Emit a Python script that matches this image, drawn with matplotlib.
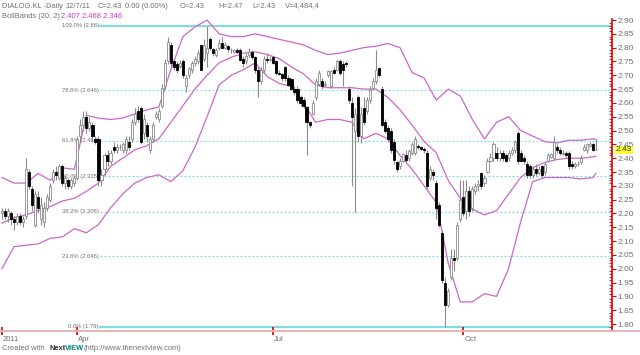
import matplotlib
matplotlib.use("Agg")
import matplotlib.pyplot as plt
from matplotlib.lines import Line2D
from matplotlib.ticker import FixedLocator, FormatStrFormatter

# Daily OHLC for DIALOG.KL, one entry per trading day
opens = [
    2.20, 2.21, 2.19, 2.20, 2.18, 2.17, 2.19, 2.17, 2.19, 2.35,
    2.29, 2.16, 2.26, 2.18, 2.17, 2.22, 2.25, 2.32, 2.35, 2.33,
    2.37, 2.31, 2.32, 2.30, 2.31, 2.33, 2.48, 2.52, 2.55, 2.51,
    2.52, 2.47, 2.47, 2.32, 2.36, 2.41, 2.39, 2.44, 2.43, 2.44,
    2.43, 2.43, 2.46, 2.47, 2.53, 2.57, 2.58, 2.49, 2.52, 2.43,
    2.47, 2.55, 2.54, 2.59, 2.66, 2.75, 2.81, 2.75, 2.74, 2.735,
    2.75, 2.66, 2.70, 2.72, 2.745, 2.75, 2.81, 2.76, 2.78, 2.83,
    2.795, 2.775, 2.80, 2.815, 2.80, 2.805, 2.79, 2.785, 2.79, 2.79,
    2.76, 2.75, 2.775, 2.785, 2.765, 2.72, 2.68, 2.72, 2.76, 2.755,
    2.765, 2.75, 2.71, 2.705, 2.73, 2.69, 2.685, 2.65, 2.65, 2.62,
    2.61, 2.585, 2.53, 2.56, 2.62, 2.67, 2.68, 2.665, 2.70, 2.66,
    2.72, 2.72, 2.75, 2.74, 2.745, 2.65, 2.60, 2.50, 2.62, 2.48,
    2.58, 2.57, 2.61, 2.655, 2.68, 2.725, 2.65, 2.53, 2.51, 2.50,
    2.46, 2.385, 2.37, 2.39, 2.41, 2.40, 2.42, 2.42, 2.445, 2.44,
    2.435, 2.42, 2.33, 2.35, 2.31, 2.23, 2.13, 1.95, 1.87, 1.97,
    2.04, 2.04, 2.18, 2.26, 2.21, 2.28, 2.22, 2.28, 2.30, 2.345,
    2.31, 2.35, 2.39, 2.40, 2.42, 2.40, 2.42, 2.41, 2.40, 2.42,
    2.43, 2.49, 2.42, 2.40, 2.38, 2.37, 2.34, 2.36, 2.345, 2.37,
    2.35, 2.39, 2.405, 2.40, 2.44, 2.43, 2.415, 2.42, 2.42, 2.38,
    2.37, 2.38, 2.385, 2.43, 2.43, 2.445, 2.45, 2.43]
highs = [
    2.22, 2.22, 2.22, 2.21, 2.19, 2.20, 2.20, 2.19, 2.40, 2.36,
    2.30, 2.28, 2.28, 2.26, 2.24, 2.27, 2.31, 2.36, 2.37, 2.38,
    2.38, 2.34, 2.33, 2.33, 2.34, 2.48, 2.54, 2.57, 2.57, 2.55,
    2.53, 2.48, 2.48, 2.36, 2.42, 2.43, 2.43, 2.46, 2.45, 2.45,
    2.46, 2.48, 2.48, 2.54, 2.58, 2.59, 2.59, 2.56, 2.53, 2.48,
    2.53, 2.57, 2.58, 2.67, 2.76, 2.84, 2.82, 2.76, 2.75, 2.755,
    2.76, 2.70, 2.73, 2.75, 2.77, 2.79, 2.81, 2.83, 2.88, 2.84,
    2.80, 2.80, 2.83, 2.84, 2.82, 2.81, 2.80, 2.795, 2.80, 2.80,
    2.77, 2.78, 2.80, 2.79, 2.77, 2.73, 2.73, 2.77, 2.78, 2.77,
    2.77, 2.755, 2.72, 2.71, 2.735, 2.70, 2.69, 2.66, 2.66, 2.63,
    2.62, 2.59, 2.535, 2.61, 2.69, 2.72, 2.69, 2.68, 2.72, 2.72,
    2.73, 2.76, 2.76, 2.75, 2.75, 2.66, 2.62, 2.58, 2.63, 2.585,
    2.62, 2.62, 2.66, 2.69, 2.79, 2.73, 2.66, 2.54, 2.52, 2.51,
    2.47, 2.39, 2.40, 2.42, 2.43, 2.435, 2.46, 2.48, 2.45, 2.445,
    2.44, 2.43, 2.37, 2.36, 2.32, 2.24, 2.14, 1.97, 1.93, 2.07,
    2.07, 2.17, 2.32, 2.32, 2.32, 2.30, 2.30, 2.31, 2.32, 2.35,
    2.34, 2.40, 2.42, 2.46, 2.44, 2.43, 2.43, 2.42, 2.43, 2.44,
    2.465, 2.50, 2.43, 2.41, 2.39, 2.38, 2.37, 2.38, 2.37, 2.375,
    2.385, 2.42, 2.42, 2.48, 2.45, 2.44, 2.43, 2.425, 2.425, 2.39,
    2.385, 2.39, 2.41, 2.45, 2.455, 2.46, 2.455, 2.47]
lows = [
    2.18, 2.18, 2.17, 2.16, 2.14, 2.16, 2.16, 2.15, 2.18, 2.29,
    2.21, 2.15, 2.20, 2.16, 2.15, 2.21, 2.24, 2.31, 2.32, 2.32,
    2.30, 2.29, 2.29, 2.29, 2.30, 2.32, 2.46, 2.50, 2.49, 2.50,
    2.46, 2.45, 2.30, 2.30, 2.34, 2.37, 2.38, 2.42, 2.42, 2.43,
    2.42, 2.42, 2.43, 2.46, 2.52, 2.53, 2.45, 2.47, 2.46, 2.42,
    2.46, 2.54, 2.53, 2.58, 2.65, 2.74, 2.73, 2.72, 2.71, 2.725,
    2.69, 2.64, 2.69, 2.71, 2.735, 2.74, 2.72, 2.75, 2.73, 2.79,
    2.77, 2.765, 2.79, 2.795, 2.795, 2.785, 2.78, 2.78, 2.78, 2.75,
    2.73, 2.74, 2.765, 2.76, 2.71, 2.62, 2.67, 2.71, 2.745, 2.75,
    2.74, 2.70, 2.70, 2.68, 2.68, 2.66, 2.645, 2.63, 2.60, 2.59,
    2.58, 2.41, 2.51, 2.555, 2.61, 2.66, 2.65, 2.66, 2.695, 2.655,
    2.705, 2.715, 2.70, 2.66, 2.73, 2.60, 2.30, 2.205, 2.46, 2.455,
    2.52, 2.56, 2.60, 2.65, 2.67, 2.695, 2.515, 2.49, 2.46, 2.42,
    2.38, 2.35, 2.36, 2.385, 2.385, 2.39, 2.41, 2.41, 2.435, 2.43,
    2.42, 2.29, 2.32, 2.32, 2.18, 2.15, 1.95, 1.79, 1.86, 1.96,
    1.99, 2.03, 2.17, 2.19, 2.18, 2.19, 2.21, 2.27, 2.28, 2.29,
    2.30, 2.345, 2.385, 2.39, 2.39, 2.39, 2.39, 2.385, 2.39, 2.41,
    2.42, 2.38, 2.385, 2.38, 2.33, 2.33, 2.33, 2.335, 2.34, 2.33,
    2.34, 2.385, 2.40, 2.395, 2.42, 2.41, 2.41, 2.40, 2.36, 2.36,
    2.365, 2.37, 2.38, 2.425, 2.42, 2.44, 2.425, 2.43]
closes = [
    2.21, 2.19, 2.21, 2.18, 2.17, 2.19, 2.17, 2.18, 2.36, 2.30,
    2.23, 2.27, 2.22, 2.23, 2.22, 2.26, 2.30, 2.35, 2.34, 2.37,
    2.31, 2.33, 2.30, 2.32, 2.33, 2.47, 2.52, 2.55, 2.51, 2.53,
    2.48, 2.46, 2.32, 2.34, 2.41, 2.39, 2.42, 2.43, 2.44, 2.44,
    2.45, 2.47, 2.44, 2.53, 2.56, 2.54, 2.46, 2.54, 2.48, 2.47,
    2.52, 2.56, 2.57, 2.655, 2.745, 2.82, 2.745, 2.73, 2.72, 2.745,
    2.70, 2.69, 2.725, 2.745, 2.76, 2.78, 2.72, 2.81, 2.80, 2.80,
    2.78, 2.79, 2.815, 2.80, 2.81, 2.795, 2.79, 2.79, 2.785, 2.755,
    2.745, 2.77, 2.785, 2.765, 2.72, 2.68, 2.72, 2.76, 2.755, 2.76,
    2.745, 2.71, 2.705, 2.69, 2.69, 2.665, 2.65, 2.64, 2.61, 2.60,
    2.59, 2.53, 2.52, 2.60, 2.68, 2.71, 2.66, 2.67, 2.715, 2.715,
    2.71, 2.75, 2.71, 2.72, 2.74, 2.61, 2.55, 2.56, 2.48, 2.56,
    2.53, 2.61, 2.645, 2.68, 2.72, 2.70, 2.52, 2.50, 2.47, 2.43,
    2.395, 2.36, 2.39, 2.415, 2.395, 2.425, 2.45, 2.47, 2.44, 2.435,
    2.43, 2.30, 2.36, 2.34, 2.22, 2.16, 1.96, 1.87, 1.92, 2.04,
    2.03, 2.16, 2.25, 2.20, 2.28, 2.21, 2.29, 2.30, 2.305, 2.30,
    2.33, 2.39, 2.405, 2.45, 2.40, 2.42, 2.40, 2.39, 2.42, 2.43,
    2.46, 2.39, 2.39, 2.39, 2.34, 2.34, 2.36, 2.345, 2.36, 2.34,
    2.38, 2.41, 2.415, 2.46, 2.43, 2.42, 2.42, 2.41, 2.37, 2.37,
    2.38, 2.38, 2.40, 2.44, 2.45, 2.45, 2.43, 2.43]

# Bollinger bands (20, 2), read every 4th bar plus the last one
band_days = list(range(0, 197, 4)) + [197]
bb_upper = [
    2.33, 2.31, 2.31, 2.345, 2.32, 2.365, 2.36, 2.555, 2.545, 2.54,
    2.545, 2.56, 2.575, 2.585, 2.72, 2.84, 2.875, 2.90, 2.85, 2.84,
    2.84, 2.85, 2.84, 2.83, 2.82, 2.81, 2.79, 2.775, 2.78, 2.79,
    2.80, 2.805, 2.815, 2.80, 2.71, 2.69, 2.61, 2.65, 2.625, 2.54,
    2.47, 2.53, 2.55, 2.50, 2.48, 2.46, 2.455, 2.465, 2.465, 2.47, 2.468]
bb_middle = [
    2.165, 2.185, 2.195, 2.21, 2.225, 2.245, 2.255, 2.28, 2.31, 2.37,
    2.40, 2.43, 2.445, 2.47, 2.53, 2.59, 2.65, 2.70, 2.745, 2.765,
    2.78, 2.785, 2.775, 2.76, 2.73, 2.705, 2.665, 2.655, 2.655, 2.655,
    2.65, 2.65, 2.62, 2.575, 2.52, 2.46, 2.42, 2.32, 2.255, 2.215,
    2.195, 2.21, 2.27, 2.33, 2.365, 2.385, 2.395, 2.40, 2.40, 2.405, 2.407]
bb_lower = [
    2.00, 2.08, 2.085, 2.09, 2.11, 2.115, 2.145, 2.13, 2.16, 2.22,
    2.27, 2.31, 2.33, 2.34, 2.315, 2.355, 2.44, 2.55, 2.665, 2.70,
    2.72, 2.745, 2.695, 2.67, 2.66, 2.60, 2.53, 2.54, 2.54, 2.53,
    2.47, 2.49, 2.47, 2.41, 2.36, 2.30, 2.24, 2.02, 1.88, 1.88,
    1.91, 1.90, 2.00, 2.17, 2.315, 2.33, 2.33, 2.33, 2.325, 2.33, 2.346]

# Fibonacci retracement levels
fib_names = ["100.0%", "78.6%", "61.8%", "50.0%", "38.2%", "23.6%", "0.0%"]
fib_levels = [2.88, 2.646, 2.464, 2.335, 2.206, 2.046, 1.79]
fib_texts = ["2.88", "2.646", "2.464", "2.335", "2.206", "2.046", "1.79"]

price_ticks = [1.80 + 0.05 * k for k in range(23)]
month_days = [0, 25, 90, 153]
month_labels = ["2011", "Apr", "Jul", "Oct"]
last_price = 2.43

FONT = ["Liberation Sans", "DejaVu Sans"]
GREY = "#707070"
BAND = "#cc66cc"
FIB = "#80dede"

W, H = 640, 355
fig = plt.figure(figsize=(W / 100, H / 100), dpi=100)
ax = fig.add_axes([0, 24 / H, 612 / W, 331 / H])
ax.set_xlim(-0.66, 202.3)
ax.set_ylim(1.7747, 2.9724)

# fibonacci lines + labels
for name, lev, txt in zip(fib_names, fib_levels, fib_texts):
    solid = name in ("100.0%", "0.0%")
    ax.plot([0.163, 1.0], [lev, lev], transform=ax.get_yaxis_transform(),
            color=FIB, lw=1.6 if solid else 0.9,
            ls="-" if solid else (0, (1.6, 1.6)), zorder=1)
    ax.text(0.161, lev, f"{name} ({txt})", transform=ax.get_yaxis_transform(),
            ha="right", va="center", fontsize=4.2, color=GREY, family=FONT, zorder=1)

# bollinger bands
for band in (bb_upper, bb_middle, bb_lower):
    ax.plot(band_days, band, color=BAND, lw=0.9, zorder=2)

# candlesticks
days = list(range(len(closes)))
ups = [c >= o for o, c in zip(opens, closes)]
ax.vlines(days, lows, highs, colors="#8a8a8a", lw=0.8, zorder=3)
bottoms = [min(o, c) for o, c in zip(opens, closes)]
heights = [abs(c - o) for o, c in zip(opens, closes)]
ax.bar(days, heights, bottom=bottoms, width=0.7,
       color=["white" if u else "black" for u in ups],
       edgecolor=["#8a8a8a" if u else "black" for u in ups],
       lw=0.6, zorder=4)

# axes styling
for s in ("top", "left", "bottom"):
    ax.spines[s].set_visible(False)
ax.spines["right"].set_color("#dd0000")
ax.spines["right"].set_linewidth(1.2)
ax.spines["right"].set_bounds(1.7747, 2.905)
ax.yaxis.tick_right()
ax.yaxis.set_major_locator(FixedLocator(price_ticks))
ax.yaxis.set_minor_locator(FixedLocator([1.78 + 0.01 * k for k in range(113)]))
ax.yaxis.set_major_formatter(FormatStrFormatter("%.2f"))
ax.tick_params(axis="y", which="major", direction="out", length=3, width=0.8,
               color="#dd0000", labelsize=6, labelcolor=GREY, pad=1)
ax.tick_params(axis="y", which="minor", direction="in", length=2, width=0.6,
               color="#dd0000")
for lab in ax.get_yticklabels():
    lab.set_family(FONT)

ax.set_xticks(month_days)
ax.set_xticklabels([])
ax.tick_params(axis="x", direction="inout", length=6, width=1.2, color="#dd0000")
for d, lab in zip(month_days, month_labels):
    ax.text(d + 0.3, -0.014, lab, transform=ax.get_xaxis_transform(),
            ha="left", va="top", fontsize=5.5, color=GREY, family=FONT)

# bottom rule across the whole picture
fig.add_artist(Line2D([0, 1], [24 / H, 24 / H], color="#e8b4b4", lw=1.4))

# last price marker
ax.text(1.006, last_price, f"{last_price:.2f}", transform=ax.get_yaxis_transform(),
        ha="left", va="center", fontsize=6, color="#333333", family=FONT,
        bbox=dict(facecolor="#ffff33", edgecolor="none", pad=0.6), zorder=6)

# header
def top_text(x, y, s, color=GREY, **kw):
    fig.text(x / W, 1 - y / H, s, ha="left", va="center", fontsize=5.4,
             color=color, family=FONT, **kw)

top_text(2, 6, "DIALOG.KL -Daily")
top_text(65, 6, "12/7/11")
top_text(98, 6, "C=2.43")
top_text(125, 6, "0.00 (0.00%)")
top_text(180, 6, "O=2.43")
top_text(218, 6, "H=2.47")
top_text(252, 6, "L=2.43")
top_text(285, 6, "V=4,484,4")
top_text(2, 16, "BollBands (20, 2)")
top_text(61, 16, "2.407 2.468 2.346", color="#cc33cc")

# footer
top_text(2, 348, "Created with")
top_text(49, 348, "Next", color="#333333", weight="bold")
top_text(65, 348, "VIEW", color="#008080", weight="bold")
top_text(83, 348, "(http://www.thenextview.com)")

fig.savefig("out.png", dpi=100)
